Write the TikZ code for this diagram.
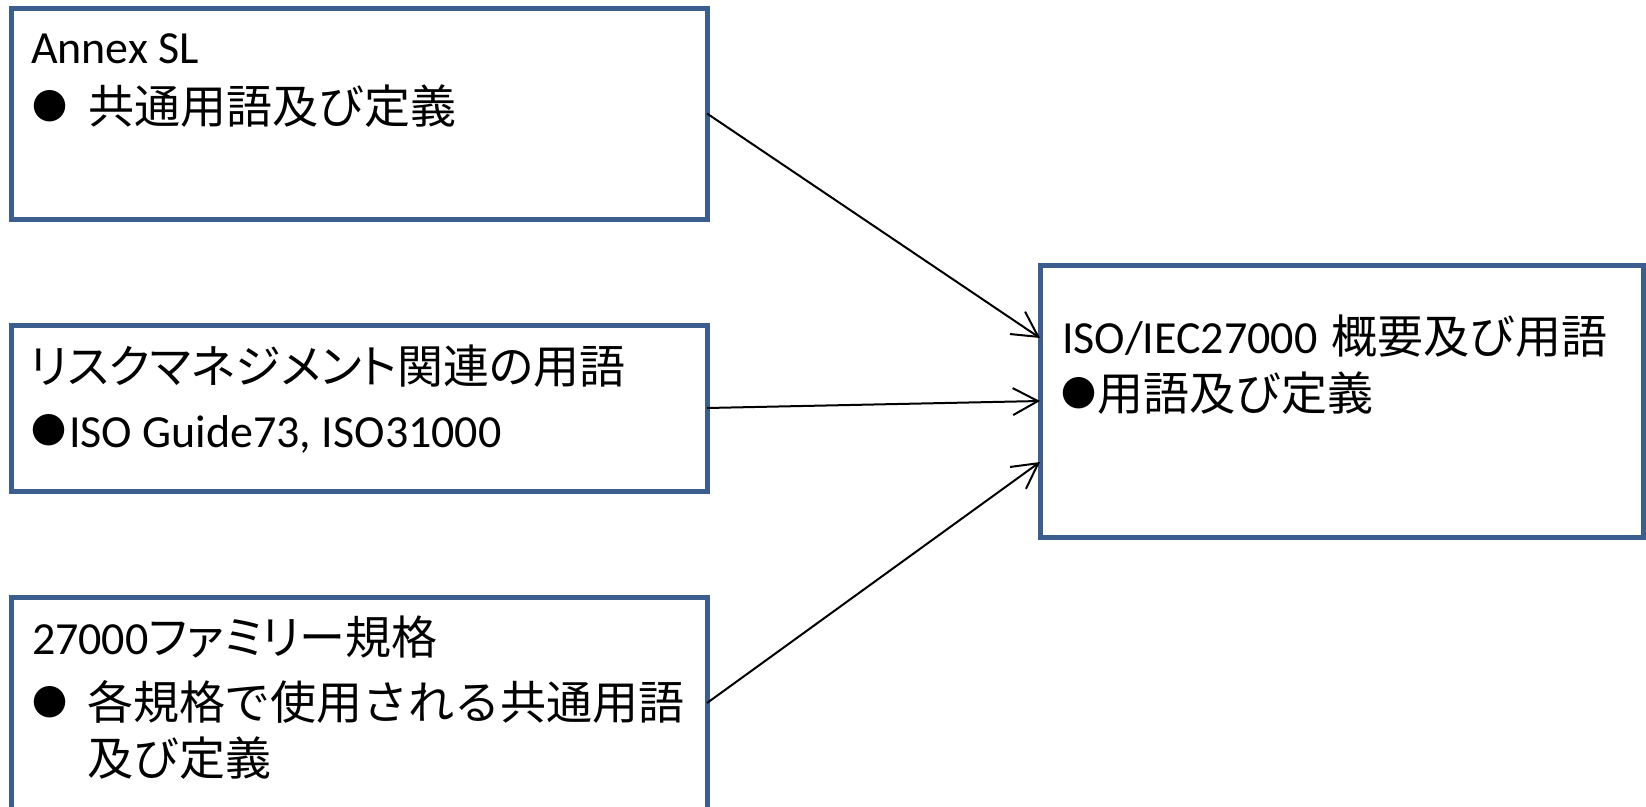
\documentclass[tikz,border=0pt]{standalone}
\usepackage{fontspec}
\setmainfont{Carlito}
\newfontfamily\jp{Noto Sans CJK JP}
\newfontfamily\jpp[RawFeature=+palt]{Noto Sans CJK JP}
\usetikzlibrary{arrows.meta}
\definecolor{boxblue}{HTML}{3B5E8E}
\newcommand{\bulmark}[1]{\makebox[#1][l]{\hspace{-1pt}\raisebox{4pt}{\fontsize{35}{35}\jp ●}}}
\begin{document}
\begin{tikzpicture}[x=1pt,y=-1pt,
  box/.style={draw=boxblue, line width=5pt, inner sep=0pt, outer sep=0pt},
  txt/.style={anchor=base west, inner sep=0pt, outer sep=0pt, font=\fontsize{46}{56}\selectfont},
  link/.style={draw=black, line width=2pt, -{Straight Barb[length=25pt,width=27pt,line width=2pt]}}]
\useasboundingbox (0,0) rectangle (1646,806);
\clip (0,0) rectangle (1646,806);
% boxes
\node[box, minimum width=696pt, minimum height=211pt] (b1) at (359,113.5) {};
\node[box, minimum width=696pt, minimum height=166pt] (b2) at (359,408) {};
\node[box, minimum width=696pt, minimum height=212pt] (b3) at (359,703) {};
\node[box, minimum width=603pt, minimum height=272pt] (b4) at (1341.5,401) {};
% texts
\node[txt] (t11) at (31,63) {Annex SL};
\node[txt] (t12) at (33,123) {\bulmark{55pt}{\jp 共通用語及び定義}};
\node[txt] (t21) at (30,383) {\jpp リスクマネジメント関連の用語};
\node[txt] (t22) at (32,447) {\bulmark{37pt}ISO Guide73, ISO31000};
\node[txt] (t31) at (32,654) {27000{\jpp ファミリー}{\jp 規格}};
\node[txt] (t32) at (33,719) {\bulmark{54pt}{\jp 各規格で使用される共通用語}};
\node[txt] (t33) at (87,775) {\jp 及び定義};
\node[txt] (t41) at (1062,353) {ISO/IEC27000\hspace{14pt}{\jp 概要及び用語}};
\node[txt] (t42) at (1062,410) {\bulmark{35pt}{\jp 用語及び定義}};
% connectors
\draw[link] (b1.east) -- ([yshift=63pt]b4.west);
\draw[link] (b2.east) -- (b4.west);
\draw[link] (b3.east) -- ([yshift=-61pt]b4.west);
\end{tikzpicture}
\end{document}
